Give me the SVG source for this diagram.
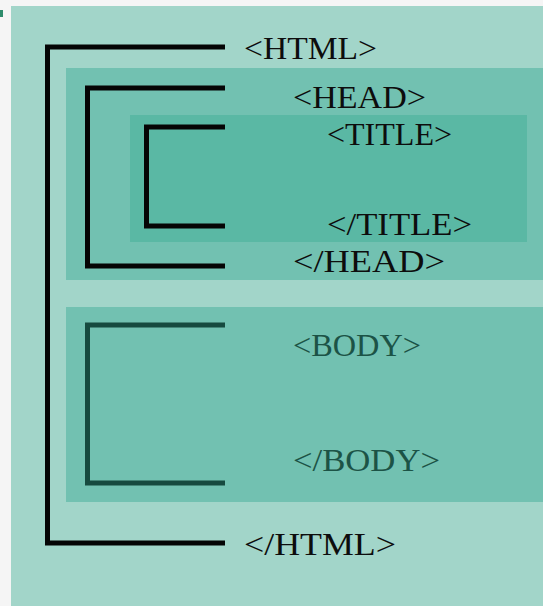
<svg xmlns="http://www.w3.org/2000/svg" width="543" height="606" viewBox="0 0 543 606">
<style>
.t{font-family:"Liberation Serif","DejaVu Serif",serif;font-size:32px;fill:#0d0d0d}
.b{fill:#1c5346}
.k{fill:none;stroke:#050505;stroke-width:5}
.d{fill:none;stroke:#164a3f;stroke-width:5}
</style>
<rect width="543" height="606" fill="#f5f5f5"/>
<rect x="0" y="10" width="3" height="7" fill="#2e8c6c"/>
<rect x="11" y="6" width="532" height="600" fill="#a2d5c9"/>
<g id="head"><rect x="66" y="68" width="477" height="212" fill="#72c1b1"/></g>
<g id="title"><rect x="130" y="115" width="397" height="127" fill="#5ab8a4"/></g>
<g id="body"><rect x="66" y="307" width="477" height="195" fill="#72c1b1"/></g>
<g id="connectors">
<path class="k" d="M225 47H47.5V543H225"/>
<path class="k" d="M225 88H87.5V266H225"/>
<path class="k" d="M225 127H146.5V226H225"/>
<path class="d" d="M225 325H87.5V483H225"/>
</g>
<g id="labels">
<text class="t" x="244" y="59" textLength="133" lengthAdjust="spacingAndGlyphs">&lt;HTML&gt;</text>
<text class="t" x="293" y="108" textLength="133" lengthAdjust="spacingAndGlyphs">&lt;HEAD&gt;</text>
<text class="t" x="327" y="145" textLength="125" lengthAdjust="spacingAndGlyphs">&lt;TITLE&gt;</text>
<text class="t" x="327" y="235" textLength="145" lengthAdjust="spacingAndGlyphs">&lt;/TITLE&gt;</text>
<text class="t" x="293" y="272" textLength="152" lengthAdjust="spacingAndGlyphs">&lt;/HEAD&gt;</text>
<text class="t b" x="293" y="356" textLength="128" lengthAdjust="spacingAndGlyphs">&lt;BODY&gt;</text>
<text class="t b" x="293" y="471" textLength="147" lengthAdjust="spacingAndGlyphs">&lt;/BODY&gt;</text>
<text class="t" x="244" y="555" textLength="152" lengthAdjust="spacingAndGlyphs">&lt;/HTML&gt;</text>
</g>
</svg>
